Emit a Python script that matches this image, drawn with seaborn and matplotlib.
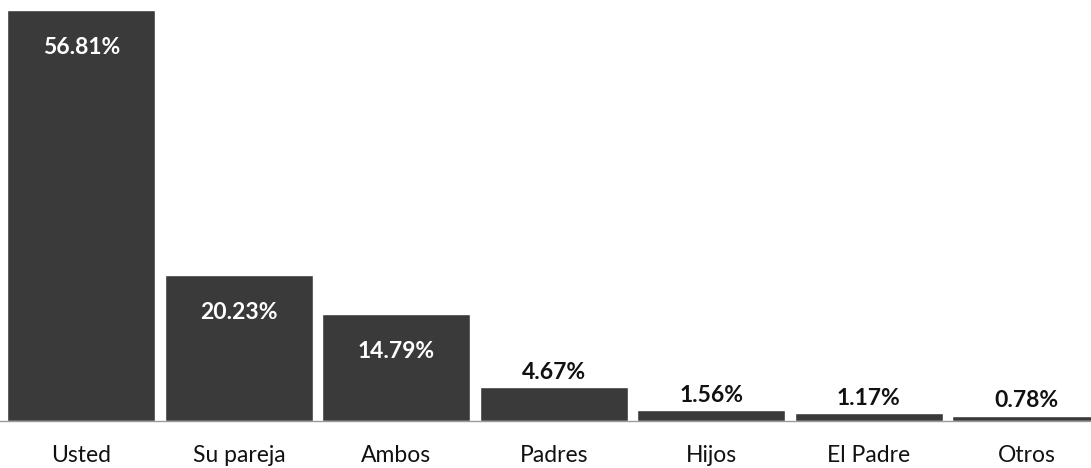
import matplotlib
matplotlib.use("Agg")
import matplotlib.pyplot as plt
import seaborn as sns
import pandas as pd

categories = ["Usted", "Su pareja", "Ambos", "Padres", "Hijos", "El Padre", "Otros"]
values = [56.81, 20.23, 14.79, 4.67, 1.56, 1.17, 0.78]
labels = ["56.81%", "20.23%", "14.79%", "4.67%", "1.56%", "1.17%", "0.78%"]

sns.set_theme(style="white")
plt.rcParams['font.family'] = ['Lato', 'DejaVu Sans']

df = pd.DataFrame({"cat": categories, "val": values})

fig = plt.figure(figsize=(10.91, 4.68), dpi=100)
ax = fig.add_axes([0.0, 0.1, 1.0, 0.9])
sns.barplot(data=df, x="cat", y="val", color="#3a3a3a", width=0.94,
            saturation=1, ax=ax)

ax.set_xlim(-0.517, 6.41)
ax.set_ylim(0, 58.2)
ax.set_xlabel("")
ax.set_ylabel("")
ax.set_yticks([])
for s in ["top", "left", "right"]:
    ax.spines[s].set_visible(False)
ax.spines["bottom"].set_color("#9a9a9a")
ax.spines["bottom"].set_linestyle((0, (2, 1)))
ax.spines["bottom"].set_linewidth(1.0)
ax.tick_params(axis="x", length=0, pad=17, labelsize=16.5, colors="#111111")

for i, (v, lab) in enumerate(zip(values, labels)):
    if v > 10:
        ax.annotate(lab, (i, v), xytext=(0, -27), textcoords="offset points",
                    ha="center", va="center", color="white", fontsize=16.5,
                    fontweight="bold")
    else:
        ax.annotate(lab, (i, v), xytext=(0, 10.5), textcoords="offset points",
                    ha="center", va="center", color="#111111", fontsize=16.5,
                    fontweight="bold")

fig.savefig("out.png", dpi=100)
